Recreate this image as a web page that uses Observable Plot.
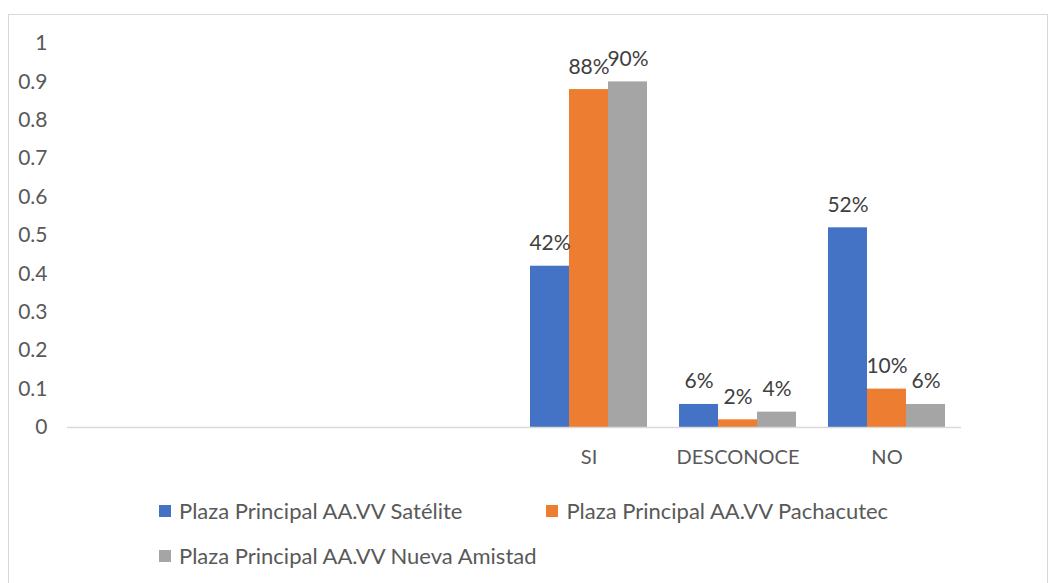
<!DOCTYPE html>
<html><head><meta charset="utf-8">
<script src="https://cdn.jsdelivr.net/npm/d3@7"></script>
<script src="https://cdn.jsdelivr.net/npm/@observablehq/plot@0.6"></script>
<style>
body{margin:0;background:#fff;font-family:Lato,"Open Sans",sans-serif;}
#wrap{position:relative;width:1051px;height:583px;overflow:hidden;background:#fff}
#border{position:absolute;left:8px;top:14px;width:1040px;height:620px;border:1px solid #d9d9d9;box-sizing:border-box}
#chart{position:absolute;left:0;top:0}
#legend{position:absolute;left:159px;top:497px;width:780px;display:flex;flex-wrap:wrap;column-gap:84px;row-gap:18px;font-size:22px;color:#595959;line-height:27px}
.item{display:flex;align-items:center;white-space:nowrap}
.sw{width:12px;height:12px;margin-right:8px;display:inline-block}
</style></head>
<body>
<div id="wrap"><div id="border"></div><div id="chart"></div><div id="legend"></div></div>
<script>
const categories = ["", " ", "  ", "SI", "DESCONOCE", "NO"];
const series = ["Plaza Principal AA.VV Satélite", "Plaza Principal AA.VV Pachacutec", "Plaza Principal AA.VV Nueva Amistad"];
const satelite = [null, null, null, 0.42, 0.06, 0.52];
const pachacutec = [null, null, null, 0.88, 0.02, 0.10];
const nuevaAmistad = [null, null, null, 0.90, 0.04, 0.06];
const colors = ["#4472C4", "#ED7D31", "#A5A5A5"];
const yTicks = [0, 0.1, 0.2, 0.3, 0.4, 0.5, 0.6, 0.7, 0.8, 0.9, 1];

const values = [satelite, pachacutec, nuevaAmistad];
const rows = [];
categories.forEach((c, i) => series.forEach((s, j) => rows.push({category: c, series: s, value: values[j][i]})));
const labelled = rows.filter(d => d.value != null);

const chart = Plot.plot({
  width: 1051, height: 480,
  marginLeft: 67, marginRight: 89, marginTop: 43, marginBottom: 53,
  style: {fontSize: "21px", fontFamily: "Lato, 'Open Sans', sans-serif", color: "#595959", background: "transparent"},
  fx: {domain: categories, paddingInner: 0.2, paddingOuter: 0.1, label: null, axis: "bottom", tickSize: 0, tickPadding: 22},
  x: {domain: series, axis: null, padding: 0},
  y: {domain: [0, 1], ticks: yTicks, tickSize: 0, tickPadding: 35, label: null, tickFormat: d => String(+d.toFixed(1))},
  color: {domain: series, range: colors},
  marks: [
    Plot.barY(rows, {fx: "category", x: "series", y: "value", fill: "series"}),
    Plot.ruleY([0], {stroke: "#d9d9d9", strokeWidth: 1.3, insetLeft: -15, insetRight: -15}),
    Plot.text(labelled, {fx: "category", x: "series", y: "value", text: d => Math.round(d.value * 100) + "%", lineAnchor: "bottom", dy: -16, fill: "#404040", fontSize: 21})
  ]
});
chart.querySelectorAll("g[aria-label='fx-axis tick label'] text, g[aria-label='fx-axis tick label']").forEach(n => n.setAttribute("font-size", "20"));
document.getElementById("chart").appendChild(chart);

const legend = document.getElementById("legend");
series.forEach((s, i) => {
  const it = document.createElement("div"); it.className = "item";
  const sw = document.createElement("span"); sw.className = "sw"; sw.style.background = colors[i];
  it.appendChild(sw); it.appendChild(document.createTextNode(s));
  legend.appendChild(it);
});
</script>
</body></html>
